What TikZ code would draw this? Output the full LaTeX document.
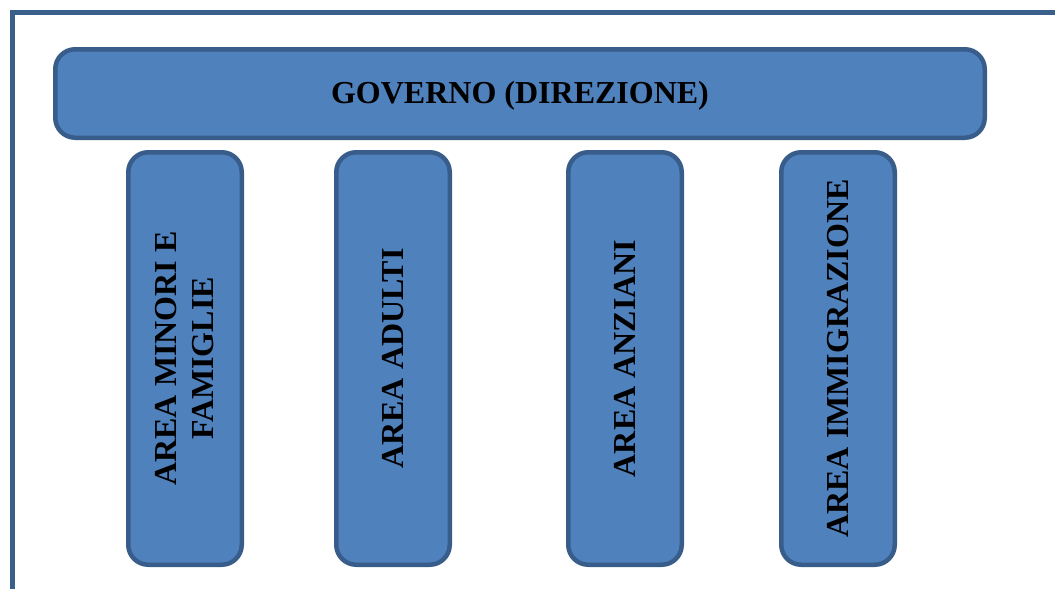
\documentclass[tikz,border=0pt]{standalone}
\usepackage{fontspec}
\setmainfont{Liberation Serif}
\definecolor{boxfill}{HTML}{4F81BD}
\definecolor{boxline}{HTML}{385D8A}
\definecolor{frameline}{HTML}{3A5F8B}
\begin{document}
\begin{tikzpicture}[x=1pt,y=-1pt,
  box/.style={draw=boxline, fill=boxfill, line width=4.5pt, rounded corners=20pt,
    inner sep=0pt, outer sep=0pt},
  topbox/.style={box, minimum width=929.5pt, minimum height=88.5pt,
    text height=21pt, text depth=1pt,
    font=\fontsize{32}{37}\selectfont\bfseries},
  colbox/.style={box, minimum width=113.5pt, minimum height=412.5pt},
  coltext/.style={rotate=90, align=center, inner sep=0pt,
    font=\fontsize{32}{37}\selectfont\bfseries},
  frame/.style={draw=frameline, line width=4.5pt}
]
\useasboundingbox (0,0) rectangle (1055,589);
\coordinate (fa) at (12.5,589);
\coordinate (fb) at (12.5,12.5);
\coordinate (fc) at (1055,12.5);
\draw[frame] (fa) -- (fb) -- (fc);

\node[topbox] (gov) at (520,93.5) {GOVERNO (DIREZIONE)};

\node[colbox] (c1) at (185,358.5) {};
\node[colbox] (c2) at (393,358.5) {};
\node[colbox] (c3) at (625,358.5) {};
\node[colbox] (c4) at (838,358.5) {};

\node[coltext] (t1) at (c1) {AREA MINORI E\\FAMIGLIE};
\node[coltext] (t2) at (c2) {AREA ADULTI};
\node[coltext] (t3) at (c3) {AREA ANZIANI};
\node[coltext] (t4) at (c4) {AREA IMMIGRAZIONE};
\end{tikzpicture}
\end{document}
